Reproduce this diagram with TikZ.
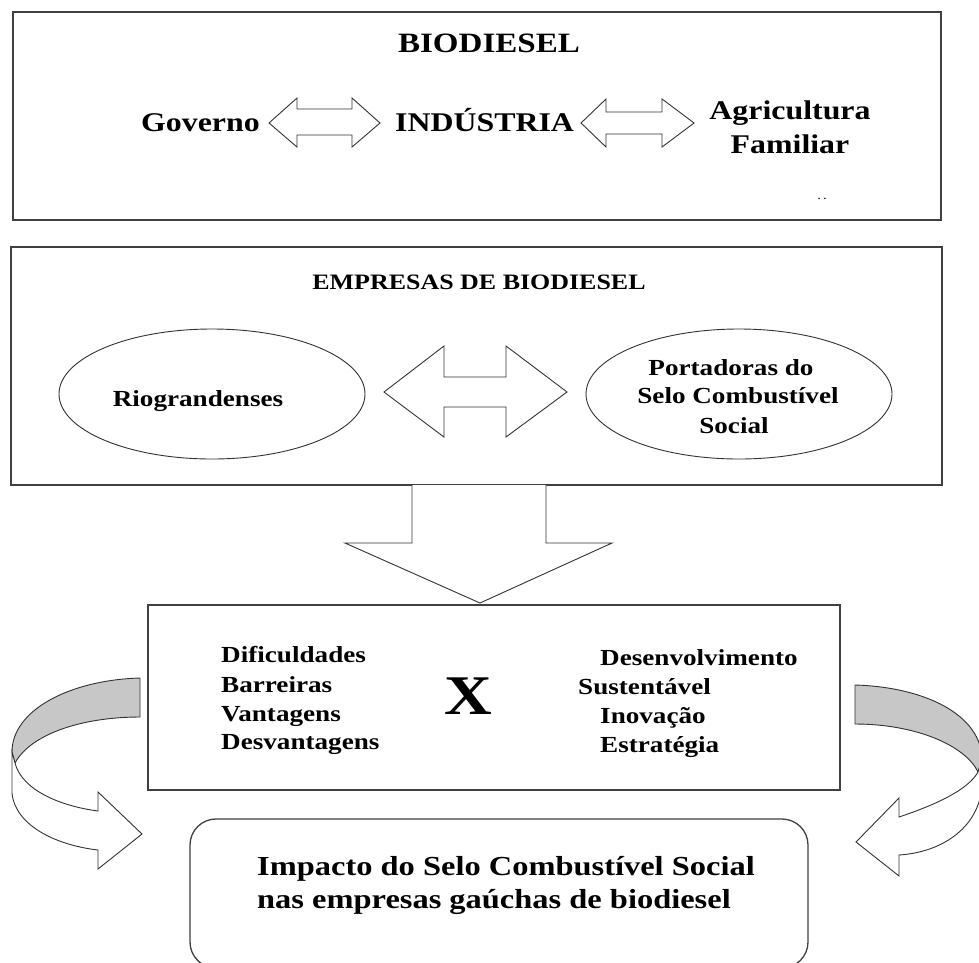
\documentclass[tikz,border=0pt]{standalone}
\usepackage{fontspec}
\setmainfont{Liberation Serif}[FakeStretch=1.18]
\usetikzlibrary{shapes.geometric}
\begin{document}
\begin{tikzpicture}[x=1pt,y=-1pt,
  frame/.style={draw=black!75, line width=1.3pt, inner sep=0pt},
  blockarrow/.style={draw=black!80, line width=0.9pt, fill=white, line join=miter},
  backband/.style={draw=black!80, line width=0.9pt, fill=black!22},
  oval/.style={draw=black!80, line width=0.9pt, ellipse, inner sep=0pt,
    minimum width=306pt, minimum height=130pt},
  txt/.style={inner sep=0pt, font=\bfseries\fontsize{#1}{#1}\selectfont},
]
\clip (0,0) rectangle (979,962);
\fill[white] (0,0) rectangle (979,962);

% --- top panel -------------------------------------------------------
\node[frame, minimum width=928pt, minimum height=208pt] (top) at (477,116) {};
\node[txt=28, anchor=base] (bio) at (489,52) {BIODIESEL};
\node[txt=27, anchor=base west] (gov) at (141,131) {Governo};
\node[txt=27, anchor=base west] (ind) at (395,131) {INDÚSTRIA};
\node[txt=27, anchor=base] (agr) at (790,119) {Agricultura};
\node[txt=27, anchor=base] (fam) at (790,153) {Familiar};
\node[txt=9, anchor=base] (dots) at (822,199) {.\,\,.};

% double arrows between the actors
\draw[blockarrow] (269,123) -- (297,98) -- (297,109) -- (352,109) -- (352,98)
  -- (380,123) -- (352,147) -- (352,135) -- (297,135) -- (297,147) -- cycle;
\draw[blockarrow] (581,123) -- (606,99) -- (606,112) -- (662,112) -- (662,99)
  -- (694,123) -- (662,147) -- (662,134) -- (606,134) -- (606,147) -- cycle;

% --- companies panel -------------------------------------------------
\node[frame, minimum width=931pt, minimum height=238pt] (emp) at (476.5,366) {};
\node[txt=22, anchor=base] (emptitle) at (479,289) {EMPRESAS DE BIODIESEL};
\node[oval] (rio) at (212,394) {};
\node[oval] (selo) at (739,394) {};
\node[txt=23, anchor=base] at (198,406) {Riograndenses};
\node[txt=23, anchor=base] at (731,375) {Portadoras do};
\node[txt=23, anchor=base] at (738,403) {Selo Combustível};
\node[txt=23, anchor=base] at (734,433) {Social};

\draw[blockarrow] (384,392) -- (444,346) -- (444,377) -- (506,377) -- (506,346)
  -- (567,392) -- (506,437) -- (506,407) -- (444,407) -- (444,437) -- cycle;

% --- analysis panel --------------------------------------------------
\node[frame, minimum width=692pt, minimum height=185pt] (anal) at (494,697.5) {};

% big arrow from the companies panel down to the analysis panel
\draw[blockarrow] (412,485) -- (412,543) -- (345,543) -- (480,603) -- (612,543)
  -- (546,543) -- (546,485);

\node[txt=23, anchor=base west] at (221,662) {Dificuldades};
\node[txt=23, anchor=base west] at (221,692) {Barreiras};
\node[txt=23, anchor=base west] at (221,721) {Vantagens};
\node[txt=23, anchor=base west] at (221,749) {Desvantagens};
\node[txt=56, anchor=base] (x) at (468,714) {X};
\node[txt=23, anchor=base west] at (600,665) {Desenvolvimento};
\node[txt=23, anchor=base west] at (578,694) {Sustentável};
\node[txt=23, anchor=base west] at (600,723) {Inovação};
\node[txt=23, anchor=base west] at (600,752) {Estratégia};

% --- impact panel ----------------------------------------------------
\draw[draw=black!75, line width=1.3pt, rounded corners=26pt] (190,819) rectangle (808,968);
\node[txt=27.5, anchor=base west] at (257,875) {Impacto do Selo Combustível Social};
\node[txt=27.5, anchor=base west] at (257,908) {nas empresas gaúchas de biodiesel};

% --- curved arrows -----------------------------------------------------
% left: back of the band (shaded), then its front with the head
\draw[backband] (140,678) .. controls (70,680) and (12,710) .. (12,752)
  -- (15,763) .. controls (30,735) and (80,717) .. (140,717) -- cycle;
\draw[blockarrow] (12,752) -- (12,793) .. controls (15,825) and (55,845) .. (98,850)
  -- (98,869) -- (142,834) -- (98,792) -- (98,811)
  .. controls (60,806) and (22,790) .. (15,763) -- cycle;
% right: mirror-like twin
\draw[backband] (855,685) .. controls (925,687) and (982,715) .. (982,760)
  -- (978,772) .. controls (965,745) and (915,724) .. (855,724) -- cycle;
\draw[blockarrow] (982,760) -- (982,785) .. controls (980,825) and (945,852) .. (899,855)
  -- (899,876) -- (856,842) -- (899,798) -- (899,817)
  .. controls (935,805) and (968,790) .. (978,772) -- cycle;
\end{tikzpicture}
\end{document}
